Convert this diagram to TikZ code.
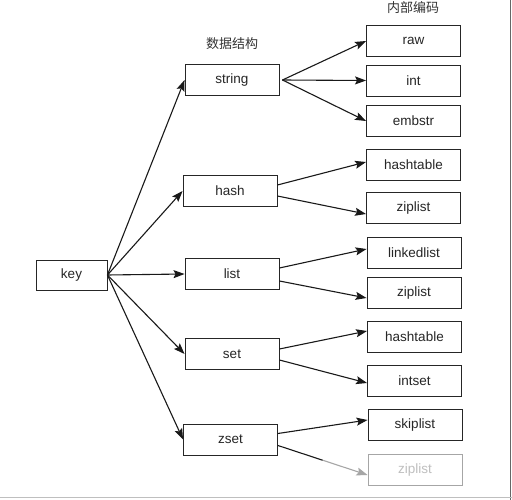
\documentclass[tikz,border=0pt]{standalone}
\usepackage{fontspec}
\setmainfont{Liberation Sans}
\newfontfamily\cjk{Noto Sans CJK SC}
\usetikzlibrary{arrows.meta,calc}
\tikzset{
  box/.style={draw=black!85, line width=0.9pt, minimum width=94pt, minimum height=31pt, inner sep=0pt, font=\fontsize{13.5}{15}\selectfont, text=black!85},
  keybox/.style={box, minimum width=71pt, minimum height=30pt},
  faded/.style={draw=black!35, text=black!25},
  arr/.style={draw=black!90, line width=1.1pt, -{Stealth[length=11pt,width=8pt,inset=2pt]}},
  plainline/.style={draw=black!90, line width=1.1pt},
  fadedarr/.style={draw=black!35, line width=1.1pt, -{Stealth[length=11pt,width=8pt,inset=2pt]}},
  lbl/.style={font=\cjk\fontsize{13}{15}\selectfont, text=black!80}
}
\begin{document}
\begin{tikzpicture}[x=1pt,y=-1pt]
\useasboundingbox (0,0) rectangle (512,500);
\fill[white] (0,0) rectangle (512,500);
\draw[black!60, line width=1pt] (510.5,0) -- (510.5,500);
\draw[black!25, line width=1pt] (0,497.5) -- (512,497.5);

\node[lbl] (lds) at (232,44) {数据结构};
\node[lbl] (lnb) at (413,8) {内部编码};

\node[keybox] (key) at (71.5,275) {key};

\node[box] (string) at (232,80) {string};
\node[box] (hash) at (230,191) {hash};
\node[box] (list) at (232,274) {list};
\node[box] (set) at (232,354) {set};
\node[box] (zset) at (230.5,439.5) {zset};

\node[box] (raw) at (413.5,41) {raw};
\node[box] (int) at (413.5,80.5) {int};
\node[box] (embstr) at (413.5,121) {embstr};
\node[box] (ht1) at (413.5,165) {hashtable};
\node[box] (zl1) at (413.5,208) {ziplist};
\node[box] (ll) at (414,253) {linkedlist};
\node[box] (zl2) at (414,293) {ziplist};
\node[box] (ht2) at (414.5,337) {hashtable};
\node[box] (is) at (414.5,381) {intset};
\node[box] (sl) at (415,425) {skiplist};
\node[box, faded] (zl3) at (415,470) {ziplist};

\draw[arr] (key.east) -- (string.west);
\draw[arr] (key.east) -- (hash.west);
\draw[arr] (key.east) -- (list.west);
\draw[arr] (key.east) -- (set.west);
\draw[arr] (key.east) -- (zset.west);

\draw[arr] ([xshift=3pt]string.east) -- (raw.west);
\draw[arr] ([xshift=3pt]string.east) -- (int.west);
\draw[arr] ([xshift=3pt]string.east) -- (embstr.west);

\draw[arr] ([yshift=6pt]hash.east) -- ([yshift=3pt]ht1.west);
\draw[arr] ([yshift=-5pt]hash.east) -- ([yshift=-6pt]zl1.west);

\draw[arr] ([yshift=6pt]list.east) -- ([yshift=4pt]ll.west);
\draw[arr] ([yshift=-7pt]list.east) -- ([yshift=-5pt]zl2.west);

\draw[arr] ([yshift=5pt]set.east) -- ([yshift=6pt]ht2.west);
\draw[arr] ([yshift=-6pt]set.east) -- ([yshift=-2pt]is.west);

\draw[arr] ([yshift=6pt]zset.east) -- ([yshift=5pt]sl.west);
\coordinate (zmid) at ($([yshift=-6pt]zset.east)!0.5!([yshift=-5pt]zl3.west)$);
\draw[plainline] ([yshift=-6pt]zset.east) -- (zmid);
\draw[fadedarr] (zmid) -- ([yshift=-5pt]zl3.west);
\end{tikzpicture}
\end{document}
